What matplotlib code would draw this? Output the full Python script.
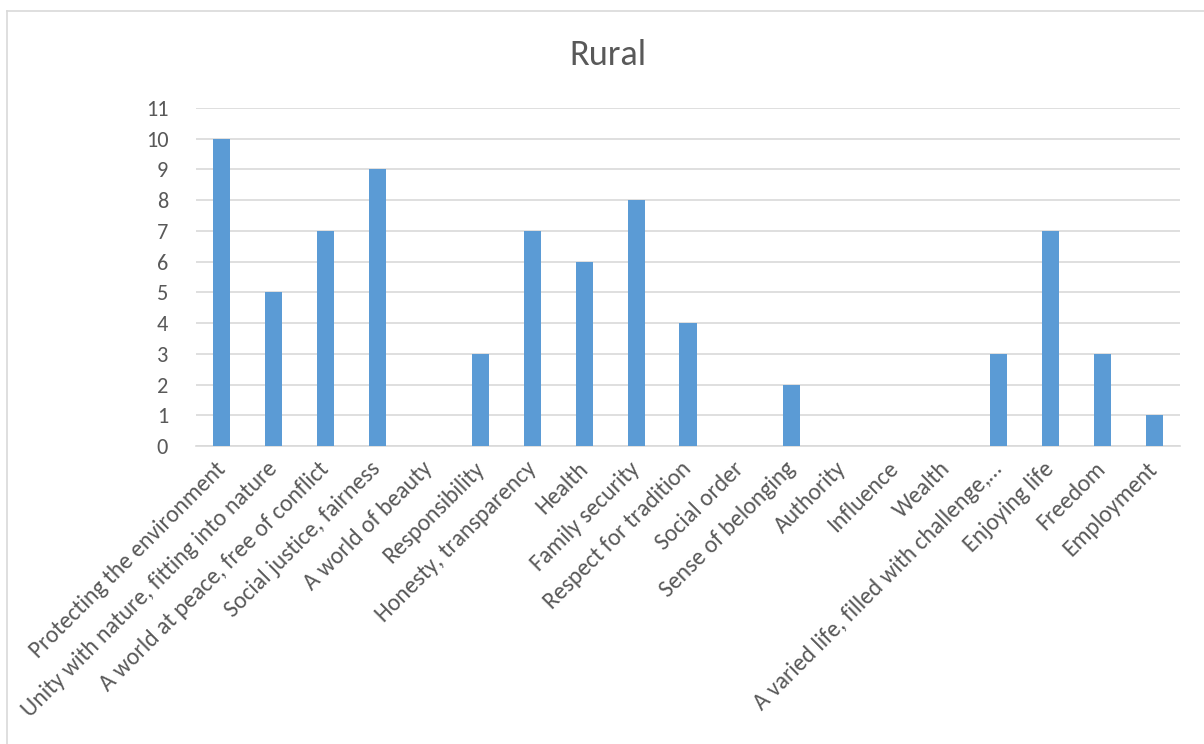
import matplotlib
matplotlib.use("Agg")
import matplotlib.pyplot as plt
from matplotlib.lines import Line2D
import numpy as np

categories = [
    "Protecting the environment",
    "Unity with nature, fitting into nature",
    "A world at peace, free of conflict",
    "Social justice, fairness",
    "A world of beauty",
    "Responsibility",
    "Honesty, transparency",
    "Health",
    "Family security",
    "Respect for tradition",
    "Social order",
    "Sense of belonging",
    "Authority",
    "Influence",
    "Wealth",
    "A varied life, filled with challenge,…",
    "Enjoying life",
    "Freedom",
    "Employment",
]
values = [10, 5, 7, 9, 0, 3, 7, 6, 8, 4, 0, 2, 0, 0, 0, 3, 7, 3, 1]
y_ticks = list(range(0, 12))

plt.rcParams['font.family'] = ['Carlito', 'Liberation Sans', 'DejaVu Sans']

fig = plt.figure(figsize=(12.04, 7.44), dpi=100)
ax = fig.add_axes([196 / 1204, 1 - 446 / 744, 984 / 1204, 338 / 744])

x = np.arange(len(categories))
ax.bar(x, values, width=0.33, color="#5B9BD5", zorder=3)

ax.set_xlim(-0.5, len(categories) - 0.5)
ax.set_ylim(0, 11)
ax.set_yticks(y_ticks)
ax.set_xticks(x)
ax.set_xticklabels(categories, rotation=45, ha="right", va="center",
                   rotation_mode="anchor", fontsize=17, color="#595959")
ax.tick_params(axis="y", labelsize=16, labelcolor="#595959", length=0, pad=20)
ax.tick_params(axis="x", length=0, pad=14)
ax.grid(axis="y", color="#D9D9D9", linewidth=1.2, zorder=0)
for side in ["top", "right", "left"]:
    ax.spines[side].set_visible(False)
ax.spines["bottom"].set_color("#D9D9D9")
ax.spines["bottom"].set_linewidth(1.2)

fig.text(608 / 1204, 1 - 55 / 744, "Rural", ha="center", va="center",
         fontsize=26, color="#595959")

# chart border (top and left edges visible)
fig.add_artist(Line2D([6.5 / 1204, 1], [1 - 10.5 / 744, 1 - 10.5 / 744],
                      transform=fig.transFigure, color="#D9D9D9", linewidth=1.2))
fig.add_artist(Line2D([6.5 / 1204, 6.5 / 1204], [0, 1 - 10.5 / 744],
                      transform=fig.transFigure, color="#D9D9D9", linewidth=1.2))

fig.savefig("out.png", dpi=100)
